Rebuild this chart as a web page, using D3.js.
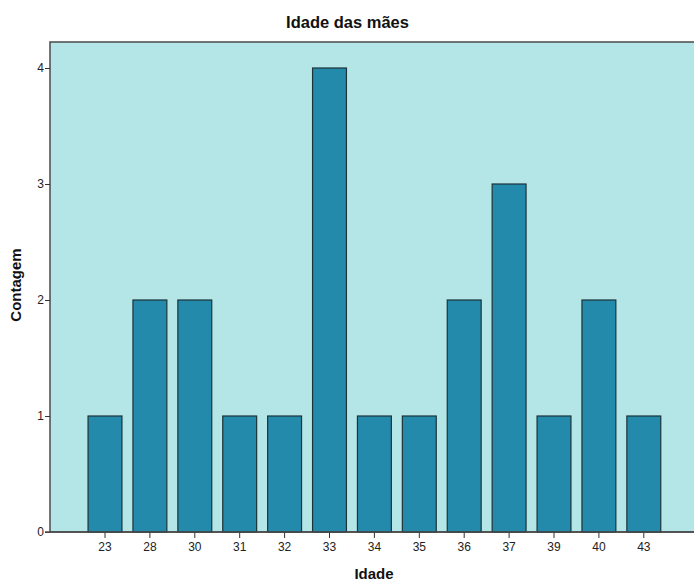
<!DOCTYPE html>
<html><head><meta charset="utf-8">
<script src="https://cdn.jsdelivr.net/npm/d3@7"></script>
<style>body{margin:0;background:#fff}svg{display:block}text{font-family:"Liberation Sans",Arial,sans-serif}</style>
</head><body><svg id="c" width="694" height="581"></svg>
<script>
const categories = ["23","28","30","31","32","33","34","35","36","37","39","40","43"];
const counts = [1,2,2,1,1,4,1,1,2,3,1,2,1];
const yTicks = [0,1,2,3,4];

const svg = d3.select("#c");
const L = 50, R = 699, T = 42, B = 532;
const x = d3.scaleBand().domain(categories).range([82.55, 666.25]).paddingInner(0.245).paddingOuter(0.1225);
const y = d3.scaleLinear().domain([0,4]).range([B, 68]);

svg.append("rect").attr("x",L).attr("y",T).attr("width",R-L).attr("height",B-T)
  .attr("fill","#b4e6e8").attr("stroke","#4a4a4a").attr("stroke-width",1.5);

svg.append("g").selectAll("rect").data(categories).join("rect")
  .attr("x", d=>x(d)).attr("width", x.bandwidth())
  .attr("y", (d,i)=>y(counts[i])).attr("height", (d,i)=>y(0)-y(counts[i]))
  .attr("fill","#248aab").attr("stroke","#1c3338").attr("stroke-width",1.2);

const ya = svg.append("g").attr("transform",`translate(${L},0)`)
  .call(d3.axisLeft(y).tickValues(yTicks).tickFormat(d3.format("d")).tickSize(5).tickSizeOuter(0));
ya.select(".domain").remove();
ya.selectAll("line").attr("stroke","#333");
ya.selectAll("text").attr("font-size",12).attr("fill","#222").attr("dx","2");

const xa = svg.append("g").attr("transform",`translate(0,${B})`)
  .call(d3.axisBottom(x).tickSize(6).tickSizeOuter(0));
xa.select(".domain").remove();
xa.selectAll("line").attr("stroke","#333");
xa.selectAll("text").attr("font-size",12).attr("fill","#222").attr("dy","0.85em");

svg.append("line").attr("x1",L-5).attr("x2",R).attr("y1",B).attr("y2",B).attr("stroke","#4a4a4a").attr("stroke-width",1.5);

svg.append("text").attr("x",347.5).attr("y",27.5).attr("text-anchor","middle")
  .attr("font-size",16.5).attr("font-weight","bold").attr("fill","#111").text("Idade das mães");
svg.append("text").attr("x",374).attr("y",579).attr("text-anchor","middle")
  .attr("font-size",15).attr("font-weight","bold").attr("fill","#111").text("Idade");
svg.append("text").attr("transform","translate(21,285) rotate(-90)").attr("text-anchor","middle")
  .attr("font-size",15).attr("font-weight","bold").attr("fill","#111").text("Contagem");
</script></body></html>
